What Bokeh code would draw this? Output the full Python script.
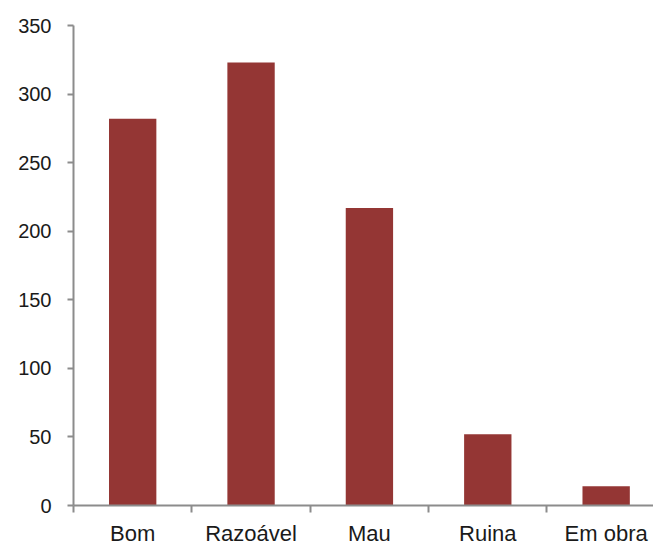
import numpy as np
from bokeh.plotting import figure
from bokeh.models import Range1d, FixedTicker
from bokeh.embed import file_html
from bokeh.resources import INLINE

# Condition of buildings (counts per category)
categories = ["Bom", "Razoável", "Mau", "Ruina", "Em obra"]
counts = [282, 323, 217, 52, 14]
y_ticks = [0, 50, 100, 150, 200, 250, 300, 350]

BAR_COLOR = "#943634"
AXIS_COLOR = "#8c8c8c"
FONT = "Liberation Sans"

centers = np.arange(len(categories)) + 0.5
boundaries = np.arange(len(categories))

p = figure(width=653, height=548, output_backend="svg", toolbar_location=None,
           x_range=Range1d(0, 4.9), y_range=Range1d(0, 350),
           min_border_left=73, min_border_right=0, min_border_top=25,
           min_border_bottom=43)
p.outline_line_color = None
p.background_fill_color = "white"
p.border_fill_color = "white"
p.xgrid.visible = False
p.ygrid.visible = False

p.vbar(x=centers, top=counts, width=0.4, bottom=0,
       fill_color=BAR_COLOR, line_color=None)

# category labels at the bar centres, tick marks between categories
xa = p.xaxis[0]
xa.ticker = FixedTicker(ticks=list(centers), minor_ticks=list(boundaries))
xa.major_label_overrides = {float(c): name for c, name in zip(centers, categories)}
xa.major_tick_out = 0
xa.major_tick_in = 0
xa.minor_tick_out = 7
xa.minor_tick_in = 0
xa.minor_tick_line_color = AXIS_COLOR
xa.minor_tick_line_width = 2
xa.axis_line_color = AXIS_COLOR
xa.axis_line_width = 2
xa.major_label_standoff = 8
xa.major_label_text_font = FONT
xa.major_label_text_font_size = "22px"
xa.major_label_text_color = "#1a1a1a"

ya = p.yaxis[0]
ya.ticker = FixedTicker(ticks=y_ticks, minor_ticks=[])
ya.major_tick_out = 6
ya.major_tick_in = 0
ya.major_tick_line_color = AXIS_COLOR
ya.major_tick_line_width = 2
ya.axis_line_color = AXIS_COLOR
ya.axis_line_width = 2
ya.major_label_standoff = 16
ya.major_label_text_font = FONT
ya.major_label_text_font_size = "20px"
ya.major_label_text_color = "#1a1a1a"

open("out.html", "w").write(file_html(p, INLINE))
